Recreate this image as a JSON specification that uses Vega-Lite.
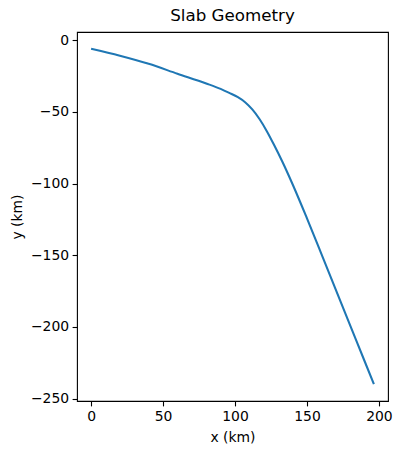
{
  "$schema": "https://vega.github.io/schema/vega-lite/v6.json",
  "width": 311,
  "height": 369,
  "autosize": {"type": "none"},
  "padding": {"left": 77, "top": 32, "right": 13, "bottom": 54},
  "background": "white",
  "config": {
    "font": "DejaVu Sans",
    "view": {"stroke": "black", "strokeWidth": 1.1},
    "axis": {
      "domain": false,
      "grid": false,
      "tickColor": "black",
      "tickSize": 4.9,
      "tickWidth": 1.1,
      "labelFont": "DejaVu Sans",
      "labelFontSize": 13.9,
      "labelColor": "black",
      "labelPadding": 3.5,
      "titleFont": "DejaVu Sans",
      "titleFontSize": 13.9,
      "titleFontWeight": "normal",
      "titleColor": "black"
    },
    "title": {"font": "DejaVu Sans", "fontSize": 16.7, "fontWeight": "normal", "color": "black", "offset": 7}
  },
  "title": "Slab Geometry",
  "data": {
    "values": [
      {"x": 0, "y": -6},
      {"x": 20, "y": -10.8},
      {"x": 40, "y": -16.5},
      {"x": 60, "y": -23.4},
      {"x": 80, "y": -30.2},
      {"x": 90, "y": -34},
      {"x": 96, "y": -36.8},
      {"x": 102, "y": -39.8},
      {"x": 107, "y": -43.3},
      {"x": 112, "y": -48.3},
      {"x": 117, "y": -55},
      {"x": 122, "y": -63.3},
      {"x": 127, "y": -72.8},
      {"x": 133, "y": -85},
      {"x": 140, "y": -100.5},
      {"x": 150, "y": -124.3},
      {"x": 160, "y": -149},
      {"x": 170, "y": -174},
      {"x": 180, "y": -199},
      {"x": 190, "y": -223.8},
      {"x": 196.5, "y": -240}
    ]
  },
  "mark": {"type": "line", "color": "#1f77b4", "strokeWidth": 2.08, "interpolate": "monotone"},
  "encoding": {
    "x": {
      "field": "x", "type": "quantitative",
      "scale": {"domain": [-9.8, 206.3], "nice": false, "zero": false},
      "axis": {"values": [0, 50, 100, 150, 200], "title": "x (km)", "titlePadding": 7}
    },
    "y": {
      "field": "y", "type": "quantitative",
      "scale": {"domain": [-251.7, 5.7], "nice": false, "zero": false},
      "axis": {"values": [-250, -200, -150, -100, -50, 0], "title": "y (km)", "titlePadding": 6}
    }
  }
}
